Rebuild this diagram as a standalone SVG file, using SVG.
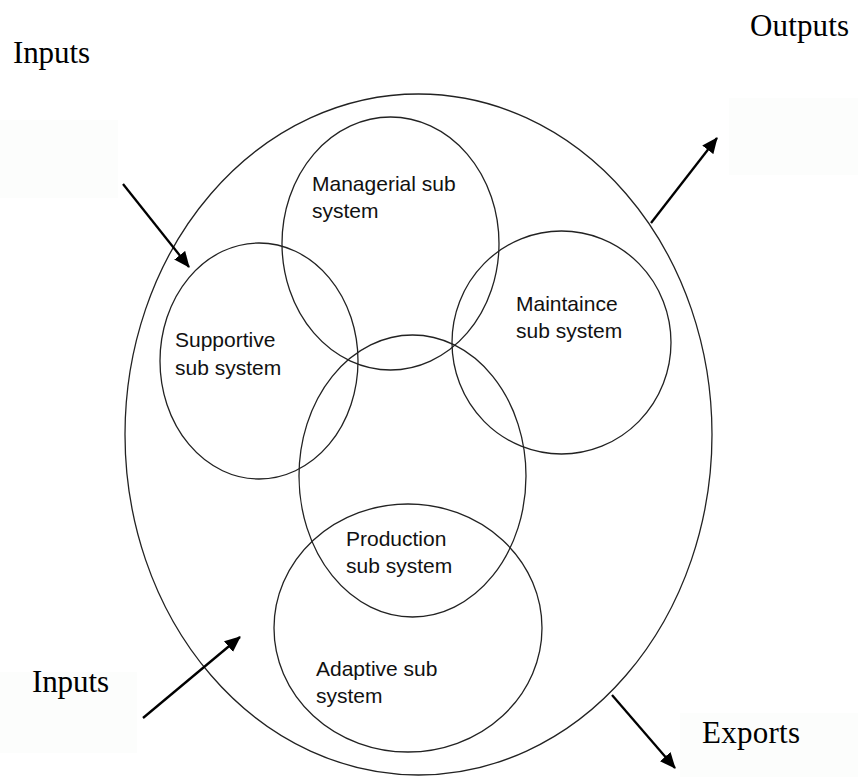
<svg xmlns="http://www.w3.org/2000/svg" width="858" height="777" viewBox="0 0 858 777">
  <style>
    .ring { fill: none; stroke: #222; stroke-width: 1.3; }
    .label { font-family: "Liberation Sans", Arial, sans-serif; font-size: 21px; fill: #111; }
    .flowtext { font-family: "Liberation Serif", "Times New Roman", serif; font-size: 31px; fill: #000; }
    .flow { stroke: #000; stroke-width: 2.3; fill: none; marker-end: url(#head); }
    .pad { fill: #fcfdfc; }
  </style>
  <defs>
    <marker id="head" viewBox="0 0 16 14" refX="15" refY="7" markerWidth="16" markerHeight="14" markerUnits="userSpaceOnUse" orient="auto">
      <path d="M0,0 L16,7 L0,14 Z" fill="#000"/>
    </marker>
  </defs>

  <rect width="858" height="777" fill="#fff"/>

  <!-- faint text-box backgrounds -->
  <rect class="pad" x="0" y="120" width="118" height="78"/>
  <rect class="pad" x="729" y="98" width="129" height="77"/>
  <rect class="pad" x="0" y="672" width="137" height="81"/>
  <rect class="pad" x="680" y="713" width="178" height="64"/>

  <!-- enclosing system boundary -->
  <g id="system">
    <ellipse class="ring" cx="418.5" cy="434.5" rx="293.5" ry="340.5"/>
  </g>

  <g id="managerial">
    <ellipse class="ring" cx="390.5" cy="243.5" rx="108.5" ry="126.5"/>
    <text class="label" x="312" y="191">Managerial sub</text>
    <text class="label" x="312" y="218">system</text>
  </g>

  <g id="supportive">
    <ellipse class="ring" cx="259" cy="361" rx="99" ry="118"/>
    <text class="label" x="175" y="347">Supportive</text>
    <text class="label" x="175" y="375">sub system</text>
  </g>

  <g id="maintaince">
    <ellipse class="ring" cx="561.5" cy="342.5" rx="109.5" ry="111.5"/>
    <text class="label" x="516" y="311">Maintaince</text>
    <text class="label" x="516" y="338">sub system</text>
  </g>

  <g id="production">
    <ellipse class="ring" cx="412.5" cy="476" rx="113.5" ry="141"/>
    <text class="label" x="346" y="546">Production</text>
    <text class="label" x="346" y="573">sub system</text>
  </g>

  <g id="adaptive">
    <ellipse class="ring" cx="408" cy="628" rx="134" ry="124"/>
    <text class="label" x="316" y="676">Adaptive sub</text>
    <text class="label" x="316" y="703">system</text>
  </g>

  <!-- flow labels -->
  <g id="flow-labels">
    <text class="flowtext" x="13" y="63" textLength="77">Inputs</text>
    <text class="flowtext" x="750" y="36" textLength="99">Outputs</text>
    <text class="flowtext" x="32" y="692" textLength="77">Inputs</text>
    <text class="flowtext" x="702" y="743" textLength="98">Exports</text>
  </g>

  <!-- flow arrows -->
  <g id="connectors">
    <line class="flow" x1="123" y1="184" x2="189" y2="267"/>
    <line class="flow" x1="651" y1="223" x2="717" y2="138"/>
    <line class="flow" x1="143" y1="718" x2="240" y2="637"/>
    <line class="flow" x1="612" y1="695" x2="675" y2="768"/>
  </g>
</svg>
